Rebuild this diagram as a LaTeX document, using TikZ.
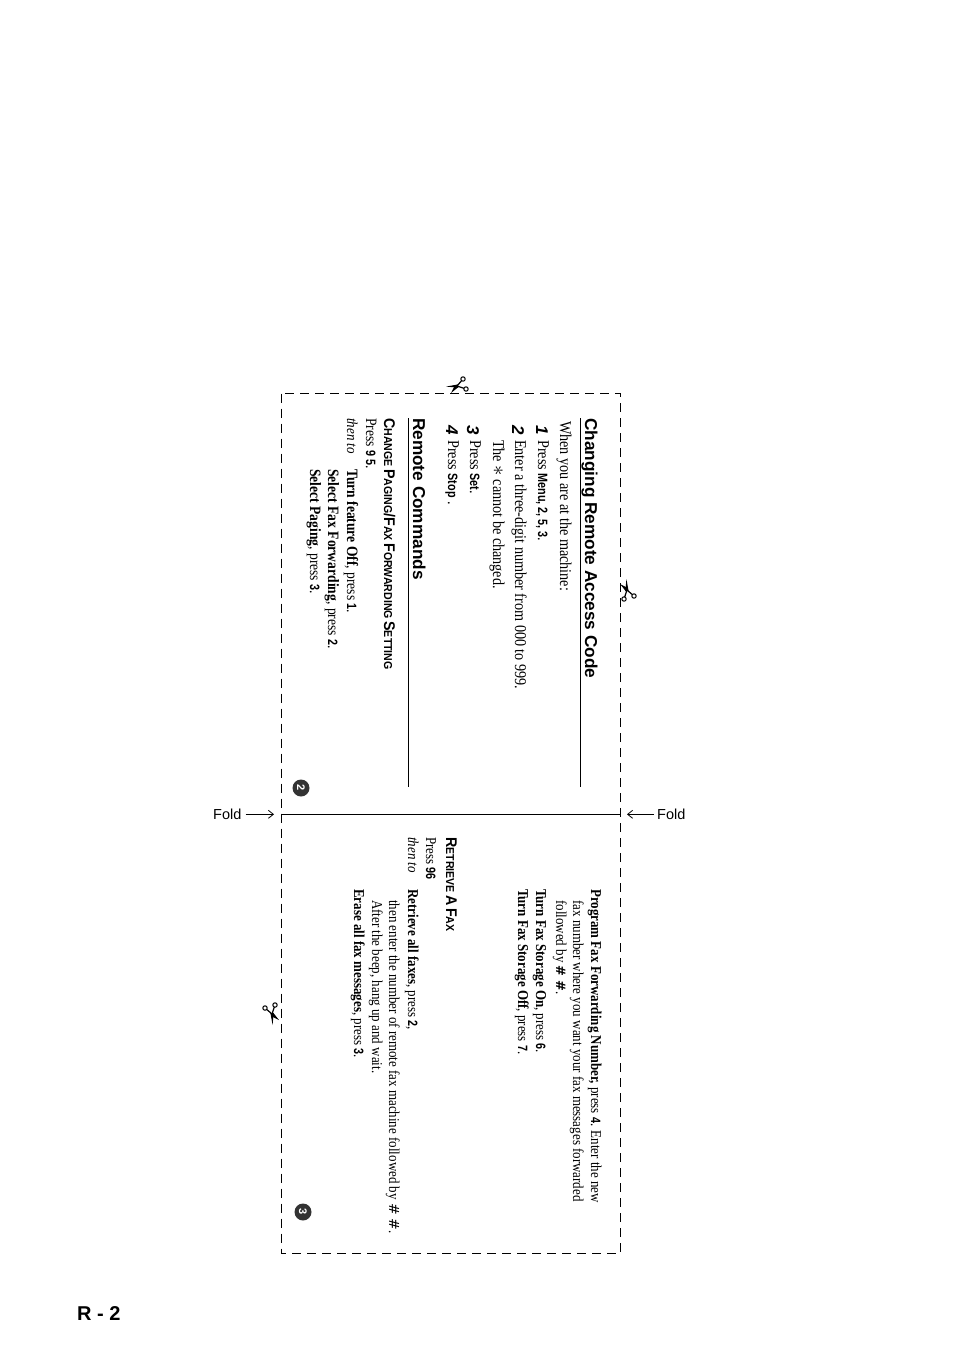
\documentclass[tikz,border=0pt]{standalone}
\usepackage{fontspec}
\setmainfont[FakeStretch=0.86]{Liberation Serif}
\newfontfamily\hdfont{Liberation Sans}
\newfontfamily\kbfont[FakeStretch=0.8]{Liberation Sans}
\newfontfamily\capfont[FakeStretch=0.92]{Liberation Sans}
\newfontfamily\symfont{DejaVu Sans}
\usetikzlibrary{arrows.meta}
\newcommand{\kb}[1]{{\kbfont\bfseries\fontsize{13.5}{14}\selectfont #1}}
\newcommand{\hh}{{\symfont\bfseries\fontsize{13}{13}\selectfont \#\hspace{4pt}\#}}
\newcommand{\hhl}{{\symfont\fontsize{14}{14}\selectfont \#\hspace{4pt}\#}}
\newcommand{\sm}[2]{{\fontsize{15.5}{16}\selectfont #1}{\fontsize{11.5}{12}\selectfont #2}}
\tikzset{
  txt/.style={rotate=-90, anchor=base west, inner sep=0pt, font=\fontsize{16.5}{17}\selectfont},
  cmd/.style={txt, font=\fontsize{15.8}{16}\selectfont},
  small/.style={txt, font=\fontsize{15.1}{16}\selectfont},
  thento/.style={txt, font=\itshape\fontsize{15.1}{16}\selectfont},
  head/.style={txt, font=\hdfont\bfseries\fontsize{17.2}{18}\selectfont},
  subhead/.style={txt, font=\capfont\bfseries},
  num/.style={txt, font=\hdfont\bfseries\itshape\fontsize{17}{17}\selectfont},
  badge/.style={circle, fill=black!80, text=white, inner sep=0pt, minimum size=17pt, rotate=-90, font=\hdfont\bfseries\fontsize{11}{11}\selectfont},
  foldlabel/.style={anchor=base west, inner sep=0pt, font=\hdfont\fontsize{14.5}{15}\selectfont},
  foldarrow/.style={-{Straight Barb[length=5pt,width=8pt]}, line width=.8pt},
  scissors/.pic={
    \fill (-11,.6) -- (1,-1.6) -- (1,1.6) -- cycle;
    \fill (-6,7) -- (-2,-1) -- (1.5,1) -- cycle;
    \draw[line width=1.2pt] (0,0) -- (7,2.3);
    \draw[line width=1.2pt] (0,0) -- (4.5,-5.2);
    \draw[line width=1pt] (9,3) circle (2.2);
    \draw[line width=1pt] (6,-7) circle (2.2);
  }
}
\begin{document}
\begin{tikzpicture}[x=1pt,y=-1pt]
  \useasboundingbox (0,0) rectangle (954,1352);

  % frame and fold
  \coordinate (nw) at (281.5,393.5);
  \coordinate (se) at (620.5,1253);
  \coordinate (foldl) at (281.5,814.3);
  \coordinate (foldr) at (620.5,814.3);
  \draw[dash pattern=on 9pt off 6pt, line width=1pt] (nw) rectangle (se);
  \draw[line width=1pt] (foldl) -- (foldr);

  \node[foldlabel] (fold1) at (213,819) {Fold};
  \node[foldlabel] (fold2) at (657,819) {Fold};
  \coordinate (tip1) at (274,814.3);
  \coordinate (tip2) at (627,814.3);
  \draw[foldarrow] ([xshift=4pt]fold1.east|-tip1) -- (tip1);
  \draw[foldarrow] ([xshift=-3pt]fold2.west|-tip2) -- (tip2);

  % scissors
  \pic (cut1) at (457,386) {scissors};
  \pic[rotate=-90] (cut2) at (627,590) {scissors};
  \pic[rotate=90] (cut3) at (272,1014) {scissors};

  % left panel
  \node[head] (title1) at (585,418) {Changing Remote Access Code};
  \draw[line width=1pt] (580.3,418) -- (580.3,787);
  \node[txt] (intro) at (560,421) {When you are at the machine:};
  \node[num] (n1) at (536,425) {1};
  \node[txt] (s1) at (538,440) {Press \kb{Menu, 2, 5, 3}.};
  \node[num] (n2) at (512,425) {2};
  \node[txt] (s2) at (515,440) {Enter a three-digit number from 000 to 999.};
  \node[txt] (s2b) at (493,440) {The {\fontsize{20.74}{21}\selectfont$\ast$} cannot be changed.};
  \node[num] (n3) at (467,425) {3};
  \node[txt] (s3) at (470,440) {Press \kb{Set}.};
  \node[num] (n4) at (446,425) {4};
  \node[txt] (s4) at (448,440) {Press \kb{Stop} .};

  \node[head] (title2) at (413,418) {Remote Commands};
  \draw[line width=1pt] (408.3,418) -- (408.3,787);
  \node[subhead] (change) at (384,418) {\sm{C}{HANGE} \sm{P}{AGING}\sm{/F}{AX} \sm{F}{ORWARDING} \sm{S}{ETTING}};
  \node[cmd] (press1) at (366,418) {Press \kb{9 5}.};
  \node[thento] (then1) at (347,418) {then to};
  \node[cmd] (c1) at (347,469) {\textbf{Turn feature Off}, press \kb{1}.};
  \node[cmd] (c2) at (328,469) {\textbf{Select Fax Forwarding}, press \kb{2}.};
  \node[cmd] (c3) at (310,469) {\textbf{Select Paging}, press \kb{3}.};
  \node[badge] (page2) at (301,788) {2};

  % right panel
  \node[small] (p1) at (591,889) {\textbf{Program Fax Forwarding Number,} press \kb{4}. Enter the new};
  \node[small] (p1b) at (573,900) {fax number where you want your fax messages forwarded};
  \node[small] (p1c) at (556,900) {followed by \hh.};
  \node[small] (p2) at (536,889) {\textbf{Turn Fax Storage On}, press \kb{6}.};
  \node[small] (p3) at (518,889) {\textbf{Turn Fax Storage Off}, press \kb{7}.};

  \node[subhead] (retrieve) at (446,837) {\sm{R}{ETRIEVE} \sm{A}{} \sm{F}{AX}};
  \node[small] (press2) at (426,837) {Press \kb{96}};
  \node[thento] (then2) at (408,837) {then to};
  \node[small] (r1) at (408,889) {\textbf{Retrieve all faxes}, press \kb{2},};
  \node[small] (r1b) at (389,900) {then enter the number of remote fax machine followed by \hhl.};
  \node[small] (r1c) at (372,900) {After the beep, hang up and wait.};
  \node[small] (r2) at (354,889) {\textbf{Erase all fax messages}, press \kb{3}.};
  \node[badge] (page3) at (303,1212) {3};

  \node[anchor=base west, inner sep=0pt, font=\hdfont\bfseries\fontsize{20}{20}\selectfont] (pageno) at (77,1320) {R - 2};
\end{tikzpicture}
\end{document}
